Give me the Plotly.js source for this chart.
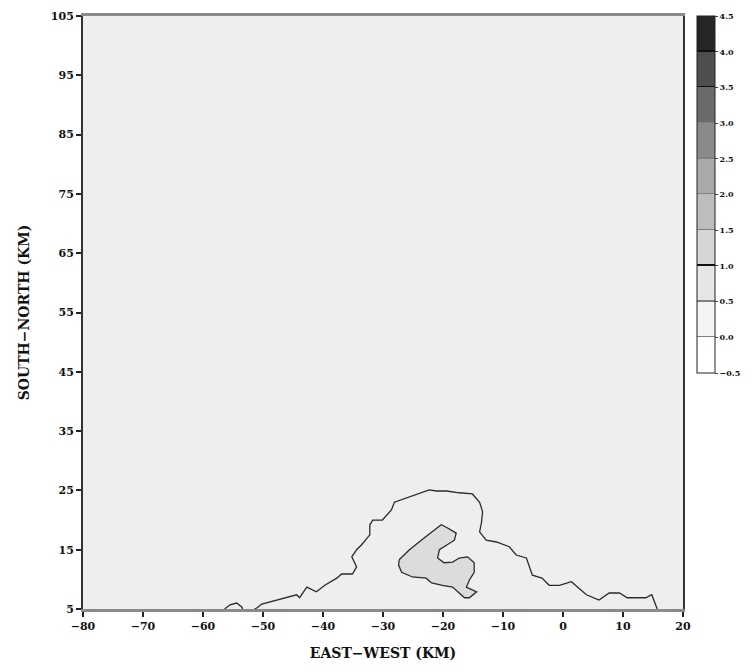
<!DOCTYPE html>
<html><head><meta charset="utf-8">
<script src="https://cdn.plot.ly/plotly-3.0.1.min.js"></script>
<style>html,body{margin:0;padding:0;background:#fff}#plot{width:752px;height:672px}</style>
</head><body><div id="plot"></div>
<script>
// Outer contour (level boundary) — data coordinates in km
const outerX = [-51.4,-51.05,-50.2,-47.7,-45.6,-44.4,-43.9,-42.7,-41.1,-39.7,-37.7,-36.9,-35.1,-34.4,-35.2,-34.4,-33.6,-32.2,-32.2,-31.7,-30.1,-28.6,-28.1,-26.1,-23.9,-22.3,-21.1,-19.4,-17.3,-15.1,-13.9,-13.4,-13.6,-13.9,-12.8,-11.1,-8.95,-7.8,-6.1,-5.1,-3.5,-2.3,-0.6,1.4,3.9,6.0,7.7,9.4,10.7,13.8,14.8,15.7,15.7];
const outerY = [5.0,5.17,5.84,6.5,7.0,7.4,6.9,8.7,7.9,9.0,10.2,10.9,10.9,12.1,13.8,15.0,15.8,17.5,19.2,20.0,20.0,21.7,23.0,23.7,24.6,25.1,24.9,24.9,24.6,24.4,23.0,21.4,19.5,18.0,16.6,16.3,15.5,14.1,13.6,10.7,10.2,9.0,9.0,9.6,7.4,6.5,7.7,7.7,6.9,6.9,7.4,5.3,5.0];
// Small bump near the southern edge
const bumpX = [-56.4,-55.5,-54.4,-53.5,-53.4];
const bumpY = [5.0,5.7,6.0,5.3,5.0];
// Inner shaded region
const innerX = [-27.3,-25.6,-23.1,-21.4,-20.3,-19.3,-17.8,-18.1,-19.4,-20.6,-20.9,-19.8,-18.4,-17.3,-15.9,-14.8,-14.8,-15.6,-16.1,-14.4,-15.6,-16.4,-17.3,-18.4,-20.1,-21.9,-22.8,-25.1,-26.9,-27.4,-27.3];
const innerY = [13.3,15.0,17.0,18.3,19.2,18.7,17.8,16.6,15.8,15.0,13.6,12.8,12.9,13.6,13.8,12.8,11.2,9.9,8.7,7.9,6.9,6.9,7.7,8.7,9.0,9.4,10.2,10.4,11.2,12.4,13.3];
// Colour bar levels
const levels = [-0.5,0.0,0.5,1.0,1.5,2.0,2.5,3.0,3.5,4.0,4.5];
const levelLabels = ["\u22120.5","0.0","0.5","1.0","1.5","2.0","2.5","3.0","3.5","4.0","4.5"];
const bandColors = ["#ffffff","#f3f3f3","#e6e6e6","#d6d6d6","#bdbdbd","#a9a9a9","#8a8a8a","#6b6b6b","#4e4e4e","#262626"];
const xTicks = [-80,-70,-60,-50,-40,-30,-20,-10,0,10,20];
const xTickLabels = ["\u221280","\u221270","\u221260","\u221250","\u221240","\u221230","\u221220","\u221210","0","10","20"];
const yTicks = [5,15,25,35,45,55,65,75,85,95,105];

// build stepwise colorscale with thin boundary lines
const lineCol = {3:"#111111",8:"#111111",9:"#111111"};
const cs = [];
const n = bandColors.length;
for (let i=0;i<n;i++){
  const a=i/n, b=(i+1)/n;
  const start = i===0 ? a : a+0.004;
  if (i>0){
    const lc = lineCol[i] || "#808080";
    cs.push([a, lc]); cs.push([a+0.004, lc]);
  }
  cs.push([start, bandColors[i]]);
  cs.push([b, bandColors[i]]);
}
cs[cs.length-1][0]=1;

const lineStyle = {color:"#2a2a2a", width:1.3};
const traces = [
  {type:"heatmap", x:[200,201], y:[300,301], z:[[levels[0],levels[levels.length-1]],[levels[0],levels[levels.length-1]]],
   zmin:levels[0], zmax:levels[levels.length-1], colorscale:cs, hoverinfo:"skip", showscale:true,
   colorbar:{x:1.0216, xanchor:"left", xref:"paper", y:1, yanchor:"top", len:357, lenmode:"pixels",
     thickness:18, thicknessmode:"pixels", outlinecolor:"#222", outlinewidth:1,
     tickvals:levels, ticktext:levelLabels, ticks:"outside", ticklen:3, tickcolor:"#444",
     tickfont:{family:"DejaVu Serif", size:8, color:"#111", weight:"bold"}, xpad:0, ypad:0}},
  {type:"scatter", mode:"lines", x:innerX, y:innerY, fill:"toself", fillcolor:"#dcdcdc", line:lineStyle, hoverinfo:"skip", showlegend:false},
  {type:"scatter", mode:"lines", x:outerX, y:outerY, line:lineStyle, hoverinfo:"skip", showlegend:false},
  {type:"scatter", mode:"lines", x:bumpX, y:bumpY, line:lineStyle, hoverinfo:"skip", showlegend:false}
];

const tickFont = {family:"DejaVu Serif", size:11, color:"#111", weight:"bold"};
const layout = {
  width:752, height:672,
  margin:{l:83, r:68, t:16, b:63, pad:0},
  paper_bgcolor:"#ffffff", plot_bgcolor:"#eeeeee",
  showlegend:false,
  xaxis:{range:[-80,20], tickvals:xTicks, ticktext:xTickLabels, ticks:"outside", ticklen:5, tickwidth:2, tickcolor:"#222",
    showgrid:false, zeroline:false, showline:true, mirror:true, linecolor:"#8a8a8a", linewidth:3,
    tickfont:tickFont, title:{text:"EAST\u2212WEST (KM)", font:{family:"DejaVu Serif", size:14, color:"#111", weight:"bold"}, standoff:16}},
  yaxis:{range:[5,105], tickvals:yTicks, ticks:"outside", ticklen:5, tickwidth:2, tickcolor:"#222",
    showgrid:false, zeroline:false, showline:true, mirror:true, linecolor:"#333", linewidth:2,
    tickfont:tickFont, title:{text:"SOUTH\u2212NORTH (KM)", font:{family:"DejaVu Serif", size:14, color:"#111", weight:"bold"}, standoff:18}}
};
Plotly.newPlot("plot", traces, layout, {staticPlot:true, displayModeBar:false});
</script>
</body></html>
